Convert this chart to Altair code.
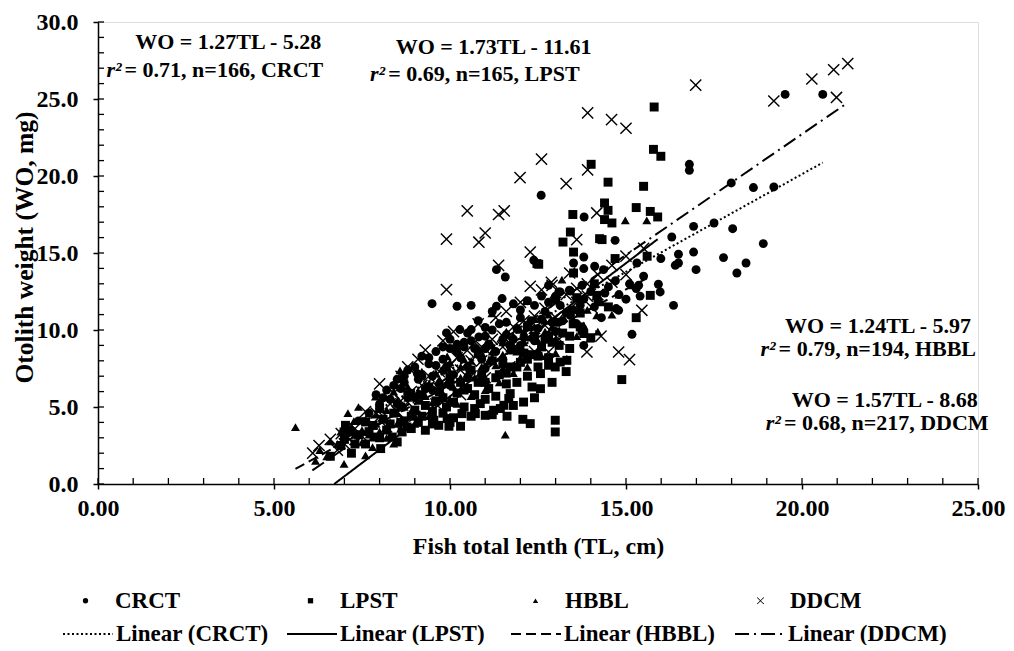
import altair as alt
import pandas as pd

SERIF = "Liberation Serif"
SERIES = ["CRCT", "LPST", "HBBL", "DDCM"]
FITS = ["Linear (CRCT)", "Linear (LPST)", "Linear (HBBL)", "Linear (DDCM)"]

# (TL cm, WO mg)
crct = [
    (19.52, 25.30), (20.59, 25.30), (12.59, 18.75), (16.80, 20.76), (16.80, 20.37), (17.99, 19.55),
    (18.62, 19.25), (19.20, 19.29), (13.81, 17.34), (14.69, 15.82), (16.30, 16.04), (16.92, 16.73),
    (17.50, 16.95), (18.03, 16.58), (18.90, 15.61), (16.92, 15.06), (16.49, 14.92), (16.40, 14.20),
    (16.99, 13.92), (17.77, 14.70), (18.15, 13.70), (18.41, 14.35), (15.99, 14.64), (15.31, 14.35),
    (16.49, 14.35), (15.92, 12.97), (15.97, 12.47), (16.35, 11.60), (15.36, 12.90), (15.29, 12.69),
    (14.79, 11.28), (15.17, 9.72), (14.72, 11.39), (13.80, 14.74), (13.80, 13.99), (14.11, 14.14),
    (14.36, 13.92), (13.51, 14.35), (13.75, 12.90), (13.42, 12.53), (13.13, 12.47), (12.80, 12.90),
    (13.09, 12.47), (13.39, 12.58), (13.13, 11.60), (13.42, 10.95), (13.80, 9.00), (12.38, 14.53),
    (11.32, 13.92), (11.57, 13.44), (9.49, 11.71), (10.20, 11.54), (10.60, 11.60), (11.48, 12.04),
    (11.32, 11.54), (9.90, 9.81), (10.28, 10.03), (10.60, 10.03), (11.00, 10.16), (10.82, 9.55),
    (10.20, 9.07), (9.82, 7.38), (9.07, 7.17),
    (7.4, 4.1), (7.7, 4.6), (7.9, 5.8), (8.0, 5.2), (8.2, 6.1), (8.3, 5.5), (8.5, 6.8), (8.6, 6.2),
    (8.8, 7.4), (8.9, 5.9), (9.1, 6.8), (9.2, 8.3), (9.3, 6.2), (9.5, 7.0), (9.6, 8.6), (9.7, 6.5),
    (9.9, 7.6), (10.0, 8.8), (10.1, 7.1), (10.3, 8.2), (10.4, 9.2), (10.5, 7.6), (10.7, 8.8),
    (10.8, 10.6), (10.9, 8.1), (11.1, 9.1), (11.2, 11.2), (11.3, 8.6), (11.5, 9.4), (11.7, 9.0),
    (11.8, 11.7), (11.9, 10.1), (12.0, 8.7), (12.1, 9.5), (12.2, 11.9), (12.3, 10.6), (12.4, 9.3),
    (12.5, 10.1), (12.6, 12.2), (12.7, 11.2), (12.9, 10.5), (13.0, 9.9), (13.3, 11.1), (13.6, 10.4),
    (14.0, 12.5), (14.3, 10.8), (14.5, 12.8), (14.8, 12.3), (15.0, 12.0), (15.5, 13.5), (14.2, 11.9),
    (13.7, 11.6), (12.0, 10.8), (11.6, 10.5), (11.0, 9.6), (10.5, 9.8), (9.8, 8.9), (9.4, 7.8), (8.7, 7.0),
    (8.1, 5.6), (8.4, 6.4), (8.7, 6.6), (9.0, 7.6), (9.2, 7.0), (9.4, 8.2), (9.6, 7.7), (9.8, 8.1),
    (10.0, 9.4), (10.2, 8.6), (10.4, 8.9), (10.6, 9.3), (10.8, 8.4), (11.0, 8.8), (11.2, 10.0),
    (11.4, 10.4), (11.6, 9.7), (11.8, 9.4), (12.0, 11.3), (12.2, 10.3), (12.4, 11.6), (12.6, 10.7),
    (12.8, 11.8), (13.0, 12.2), (13.2, 10.6), (13.5, 11.3), (13.8, 12.0), (14.1, 11.5), (14.4, 12.4),
    (14.7, 13.2), (15.1, 13.0), (15.4, 12.2), (8.5, 5.2), (9.0, 5.6), (9.5, 6.1), (10.0, 6.4),
    (10.5, 6.9), (11.0, 7.5), (11.5, 8.1), (12.0, 9.0),
]

lpst = [
    (15.80, 24.48), (15.78, 21.73), (15.99, 21.28), (14.01, 20.76), (14.49, 19.60), (15.50, 19.33),
    (14.39, 18.25), (14.49, 17.77), (15.29, 17.95), (15.69, 17.70), (15.90, 17.34), (13.49, 17.50),
    (14.39, 17.17), (14.60, 16.95), (13.42, 16.36), (13.21, 15.71), (14.32, 15.87), (13.51, 15.06),
    (14.69, 14.64), (13.51, 13.70), (12.52, 14.27), (15.60, 14.79), (15.69, 12.25), (14.17, 12.25),
    (15.29, 10.80), (14.88, 6.78), (12.99, 4.14), (12.99, 3.38), (12.28, 3.92), (12.07, 4.20),
    (11.62, 4.40), (12.57, 6.19), (11.67, 5.55), (11.43, 4.90), (12.09, 5.32), (13.13, 7.92),
    (12.99, 7.60), (6.60, 1.80), (6.99, 3.38), (7.60, 4.03), (8.03, 2.30), (8.36, 3.05), (8.64, 3.38),
    (9.30, 3.49), (9.68, 3.81), (9.97, 3.75), (10.30, 3.75), (10.72, 4.57), (11.00, 4.46),
    (12.47, 14.31), (13.70, 10.20), (13.80, 9.77), (13.32, 8.03), (12.80, 7.71), (12.57, 7.17),
    (12.33, 6.30), (11.71, 5.87), (11.53, 5.11), (11.24, 4.79), (10.86, 5.22), (10.34, 4.57),
    (9.92, 4.25), (9.54, 4.14), (8.78, 3.70), (8.50, 2.73), (7.84, 3.05), (7.17, 3.38), (7.03, 3.81),
    (14.25, 15.93), (13.75, 9.98),
    (7.4, 3.2), (7.8, 3.8), (8.1, 4.2), (8.4, 4.6), (8.7, 4.1), (9.0, 4.8), (9.3, 5.1), (9.6, 5.4),
    (9.9, 5.0), (10.2, 5.9), (10.5, 6.2), (10.8, 6.6), (11.1, 6.2), (11.4, 7.1), (11.7, 7.6),
    (12.0, 7.9), (12.3, 8.4), (12.6, 8.9), (12.9, 9.2), (13.2, 9.8), (13.5, 10.4), (8.8, 5.8),
    (9.4, 6.3), (10.0, 6.8), (10.6, 7.4), (11.2, 8.0), (11.8, 8.7), (12.4, 9.6), (13.0, 10.5),
    (9.1, 4.0), (9.8, 4.6), (10.4, 5.0), (11.0, 5.5), (11.6, 6.5), (12.2, 7.0), (12.8, 8.2),
    (13.4, 8.8), (14.0, 9.5), (14.5, 11.5), (8.2, 3.5), (7.6, 2.6), (6.9, 2.5), (7.2, 2.0),
    (10.1, 4.3), (10.7, 4.9), (11.3, 5.7), (11.9, 6.6), (12.5, 7.6), (9.5, 4.7), (8.9, 4.4),
    (13.6, 12.1), (14.1, 13.0), (13.0, 12.0), (12.2, 10.2),
    (7.0, 2.9), (7.3, 2.6), (7.7, 3.4), (8.0, 3.0), (8.3, 3.9), (8.6, 4.0), (8.9, 3.6), (9.2, 4.4),
    (9.5, 3.9), (9.8, 5.6), (10.1, 5.3), (10.4, 6.1), (10.7, 5.8), (11.0, 6.6), (11.3, 6.9),
    (11.6, 7.2), (11.9, 7.6), (12.2, 8.1), (12.5, 8.3), (12.8, 9.6), (13.1, 9.0), (13.4, 9.6),
    (13.7, 11.1), (8.0, 4.9), (8.6, 5.0), (9.2, 5.8), (9.7, 6.0), (10.3, 6.6), (10.9, 7.1),
    (11.5, 7.8), (12.1, 8.5), (12.7, 9.4), (10.0, 4.0), (10.6, 4.4), (11.2, 4.5), (11.8, 5.1),
    (12.4, 5.6), (12.9, 6.6), (13.3, 7.3),
]

hbbl = [
    (5.61, 3.70), (6.99, 1.30), (6.18, 1.50), (7.60, 1.86), (8.40, 2.62), (6.60, 2.76), (7.27, 4.09),
    (7.88, 5.67), (8.58, 7.38), (9.92, 8.29), (11.57, 3.20), (12.17, 11.87), (11.19, 11.08),
    (13.18, 13.27), (14.17, 10.95), (13.98, 9.44), (13.32, 8.14), (14.98, 17.12), (15.59, 17.12),
    (6.3, 2.2), (6.8, 2.6), (7.0, 2.9), (7.3, 3.2), (7.5, 3.5), (7.7, 3.2), (7.9, 3.9), (8.1, 4.3),
    (8.3, 4.0), (8.5, 4.6), (8.7, 5.0), (8.9, 4.7), (9.1, 5.4), (9.3, 5.7), (9.5, 5.3), (9.7, 6.1),
    (9.9, 6.5), (10.1, 6.3), (10.3, 6.9), (10.5, 7.2), (10.7, 6.9), (10.9, 7.6), (11.1, 8.0),
    (11.3, 7.7), (11.5, 8.4), (11.7, 8.8), (11.9, 8.6), (12.1, 9.2), (12.3, 9.5), (12.5, 9.3),
    (12.7, 9.9), (12.9, 10.2), (13.1, 10.0), (13.5, 10.7), (13.9, 11.3), (14.3, 11.8), (14.8, 12.3),
    (15.2, 12.9), (7.1, 4.6), (8.0, 5.1), (8.8, 6.3), (9.6, 7.2), (10.4, 8.1), (11.2, 9.0),
    (12.0, 10.0), (12.8, 11.0), (8.2, 3.0), (9.0, 3.9), (9.8, 4.8), (10.6, 5.7), (11.4, 6.6),
    (12.2, 7.6), (13.0, 8.5), (6.5, 1.8), (7.8, 2.4), (8.6, 3.6), (9.4, 4.4), (10.2, 5.2),
    (11.0, 6.1), (11.8, 7.2), (12.6, 8.3), (13.6, 9.6), (7.4, 5.0), (8.4, 6.0), (9.2, 7.3),
    (10.0, 7.9), (10.8, 8.8), (11.6, 9.9), (12.4, 10.7),
    (6.9, 3.4), (7.2, 3.7), (7.6, 4.2), (7.9, 4.5), (8.2, 4.8), (8.5, 5.4), (8.8, 5.6), (9.1, 6.0),
    (9.4, 6.5), (9.7, 6.8), (10.0, 7.3), (10.3, 7.6), (10.6, 8.0), (10.9, 8.5), (11.2, 8.6),
    (11.5, 9.2), (11.8, 9.6), (12.1, 9.9), (12.4, 10.2), (12.7, 10.6), (7.5, 2.7), (8.0, 3.4),
    (8.5, 3.9), (9.0, 4.4), (9.5, 4.9), (10.0, 5.5), (10.5, 6.3), (11.0, 6.9), (11.5, 7.5),
    (12.0, 8.2), (12.5, 8.7), (13.0, 9.4), (13.4, 11.4), (13.8, 10.3), (14.2, 9.9), (14.6, 11.0),
]

ddcm = [
    (6.10, 2.00), (6.28, 2.50), (6.91, 3.27), (7.60, 4.70), (8.40, 5.90), (9.09, 8.10), (8.61, 6.99),
    (9.90, 15.90), (9.90, 12.62), (10.49, 17.73), (10.82, 15.70), (11.00, 16.30), (11.38, 14.20),
    (11.38, 17.50), (11.54, 17.73), (12.28, 15.06), (12.28, 12.84), (12.88, 13.10), (11.99, 19.90),
    (12.60, 21.10), (13.30, 19.50), (13.91, 24.10), (13.91, 20.40), (14.59, 23.66), (15.00, 23.10),
    (16.98, 25.90), (19.20, 24.87), (20.28, 26.30), (20.90, 26.90), (21.30, 27.30), (20.98, 25.10),
    (14.17, 17.60), (13.60, 15.87), (14.03, 11.45), (14.29, 9.60), (14.79, 8.57), (15.10, 8.08),
    (13.89, 8.57), (15.45, 11.28), (10.49, 8.68), (12.80, 8.57),
    (6.6, 2.9), (7.0, 2.6), (7.3, 3.6), (7.8, 3.9), (8.1, 4.4), (8.3, 5.2), (8.6, 5.4), (8.9, 6.0),
    (9.2, 6.4), (9.4, 7.0), (9.7, 7.3), (10.0, 7.7), (10.2, 8.2), (10.6, 8.0), (10.9, 8.9),
    (11.2, 9.4), (11.5, 9.6), (11.8, 10.2), (12.1, 10.6), (12.4, 10.9), (12.7, 11.4), (13.0, 11.8),
    (13.3, 12.3), (13.6, 12.7), (13.9, 13.0), (14.2, 13.6), (14.6, 14.2), (15.0, 14.8), (15.5, 15.3),
    (9.0, 4.4), (9.6, 5.2), (10.3, 5.8), (11.0, 6.9), (11.7, 7.6), (12.4, 8.6), (13.1, 9.4),
    (8.0, 6.5), (8.8, 7.6), (9.8, 9.3), (10.8, 10.4), (11.6, 11.2), (12.6, 12.6), (13.4, 13.7),
    (6.8, 2.2), (7.1, 3.0), (7.5, 3.1), (7.9, 4.6), (8.2, 3.7), (8.5, 4.7), (8.8, 5.3), (9.1, 5.6),
    (9.4, 6.3), (9.7, 6.2), (10.0, 6.9), (10.3, 7.4), (10.6, 7.0), (10.9, 8.0), (11.2, 8.3),
    (11.5, 8.9), (11.8, 9.1), (12.1, 9.7), (12.4, 10.1), (12.7, 10.3), (13.0, 10.8), (13.3, 11.2),
    (13.6, 11.8), (13.9, 12.2), (14.2, 12.3), (14.6, 13.1), (15.0, 13.6), (9.3, 8.7), (10.1, 9.9),
    (10.7, 9.2), (11.3, 10.8), (12.0, 11.8), (12.9, 12.9),
]

# published regressions WO = a*TL + b over each sample's TL range
fit_slope = [1.27, 1.73, 1.24, 1.57]
fit_intercept = [-5.28, -11.61, -5.97, -8.68]
fit_tl_min = [7.5, 6.71, 5.61, 6.09]
fit_tl_max = [20.59, 15.9, 15.6, 21.3]

eq_text = ["WO = 1.27TL - 5.28", "WO = 1.73TL - 11.61", "WO = 1.24TL - 5.97", "WO = 1.57TL - 8.68"]
eq_tl = [3.70, 11.24, 22.16, 22.35]
eq_wo = [28.68, 28.36, 10.25, 5.43]
stat_text = ["= 0.71, n=166, CRCT", "= 0.69, n=165, LPST", "= 0.79, n=194, HBBL", "= 0.68, n=217, DDCM"]
stat_tl = [0.67, 8.16, 19.25, 19.40]
stat_wo = [26.86, 26.60, 8.75, 3.94]

x_major = [0, 5, 10, 15, 20, 25]
y_major = [0, 5, 10, 15, 20, 25, 30]
x_minor = list(range(0, 26))
y_minor = list(range(0, 31))

# thin filled "x" glyph (two bars of equal winding), unit box -1..1 scaled by Vega
X_GLYPH = ("M-1.137,-1.363L1.363,1.137L1.137,1.363L-1.363,-1.137Z"
           "M-1.137,1.363L-1.363,1.137L1.137,-1.363L1.363,-1.137Z")

rows = []
for name, pts in zip(SERIES, [crct, lpst, hbbl, ddcm]):
    for tl, wo in pts:
        rows.append({"series": name, "TL": tl, "WO": wo})
points = pd.DataFrame(rows)
points["idx"] = range(len(points))

line_rows = []
for name, a, b, lo, hi in zip(FITS, fit_slope, fit_intercept, fit_tl_min, fit_tl_max):
    for tl in (lo, hi):
        line_rows.append({"fit": name, "TL": tl, "WO": a * tl + b})
lines = pd.DataFrame(line_rows)

eqs = pd.DataFrame({"TL": eq_tl, "WO": eq_wo, "label": eq_text})
stats = pd.DataFrame({"TL": stat_tl, "WO": stat_wo, "label": stat_text, "r": ["r²"] * 4})

W, H = 880, 462
xs = alt.Scale(domain=[0, 25], nice=False, zero=False)
ys = alt.Scale(domain=[0, 30], nice=False, zero=False)

x_axis = alt.Axis(values=x_major, format=".2f", title="Fish total lenth (TL, cm)", grid=False,
                  tickSize=5, tickWidth=1.5, tickColor="black", domainColor="black", domainWidth=1.5,
                  labelFont=SERIF, labelFontSize=24, labelFontWeight="bold", labelColor="black",
                  labelPadding=7, labelFlush=False, labelOverlap=False,
                  titleFont=SERIF, titleFontSize=24, titleFontWeight="bold", titleColor="black",
                  titleY=50)
y_axis = alt.Axis(values=y_major, format=".1f", title="Otolith weight (WO, mg)", grid=False,
                  tickSize=5, tickWidth=1.5, tickColor="black", domainColor="black", domainWidth=1.5,
                  labelFont=SERIF, labelFontSize=24, labelFontWeight="bold", labelColor="black",
                  labelPadding=15, labelFlush=False, labelOverlap=False,
                  titleFont=SERIF, titleFontSize=25.5, titleFontWeight="bold", titleColor="black",
                  titleX=-61, titleY=225)

shape_legend = alt.Legend(title=None, orient="none", legendX=-24, legendY=567, direction="horizontal",
                          columns=4, gridAlign="all", columnPadding=112, padding=0,
                          symbolSize=28, symbolFillColor="black", symbolStrokeWidth=0,
                          labelFont=SERIF, labelFontSize=23, labelFontWeight="bold",
                          labelColor="black", labelOffset=18)

pts = alt.Chart(points).mark_point(filled=True, size=80, color="black", strokeWidth=0, opacity=1).encode(
    x=alt.X("TL:Q", scale=xs, axis=x_axis),
    y=alt.Y("WO:Q", scale=ys, axis=y_axis),
    shape=alt.Shape("series:N", scale=alt.Scale(domain=SERIES, range=[
        "circle", "square", "triangle-up", X_GLYPH]), legend=shape_legend),
    order=alt.Order("idx:Q"),
)

line_legend = alt.Legend(title=None, orient="none", legendX=-36, legendY=586, direction="horizontal",
                         columns=4, gridAlign="all", columnPadding=7, padding=0,
                         symbolType="stroke", symbolSize=2500, symbolStrokeWidth=2,
                         symbolStrokeColor="black",
                         labelFont=SERIF, labelFontSize=23, labelFontWeight="bold",
                         labelColor="black", labelOffset=2)

fit_lines = alt.Chart(lines).mark_line(color="black", strokeWidth=2).encode(
    x=alt.X("TL:Q", scale=xs, axis=x_axis),
    y=alt.Y("WO:Q", scale=ys, axis=y_axis),
    strokeDash=alt.StrokeDash("fit:N", scale=alt.Scale(domain=FITS, range=[[2, 2.5], [1, 0], [10, 5], [14, 5, 2, 5]]),
                              legend=line_legend),
)

xt = pd.DataFrame({"TL": x_minor})
yt = pd.DataFrame({"WO": y_minor})
x_ticks = alt.Chart(xt).mark_rule(color="black", strokeWidth=1.3).encode(
    x=alt.X("TL:Q", scale=xs, axis=x_axis), y=alt.value(H - 6), y2=alt.value(H))
y_ticks = alt.Chart(yt).mark_rule(color="black", strokeWidth=1.3).encode(
    y=alt.Y("WO:Q", scale=ys, axis=y_axis), x=alt.value(0), x2=alt.value(6))

eq_layer = alt.Chart(eqs).mark_text(font=SERIF, fontSize=22, fontWeight="bold", color="black",
                                    align="center", baseline="middle").encode(
    x=alt.X("TL:Q", scale=xs, axis=x_axis), y=alt.Y("WO:Q", scale=ys, axis=y_axis), text="label:N")
r_layer = alt.Chart(stats).mark_text(font=SERIF, fontSize=22, fontStyle="italic", fontWeight="bold",
                                     color="black", align="right", baseline="middle").encode(
    x=alt.X("TL:Q", scale=xs, axis=x_axis), y=alt.Y("WO:Q", scale=ys, axis=y_axis), text="r:N")
stat_layer = alt.Chart(stats).mark_text(font=SERIF, fontSize=22, fontWeight="bold", color="black",
                                        align="left", baseline="middle", dx=3).encode(
    x=alt.X("TL:Q", scale=xs, axis=x_axis), y=alt.Y("WO:Q", scale=ys, axis=y_axis), text="label:N")

chart = alt.layer(pts, fit_lines, x_ticks, y_ticks, eq_layer, r_layer, stat_layer).properties(
    width=W, height=H,
    autosize=alt.AutoSizeParams(type="none"),
    padding={"left": 90, "top": 14, "right": 28, "bottom": 161},
).configure_view(stroke=None).configure(background="white")

chart.save("out.html", embed_options={"renderer": "svg", "actions": False})
